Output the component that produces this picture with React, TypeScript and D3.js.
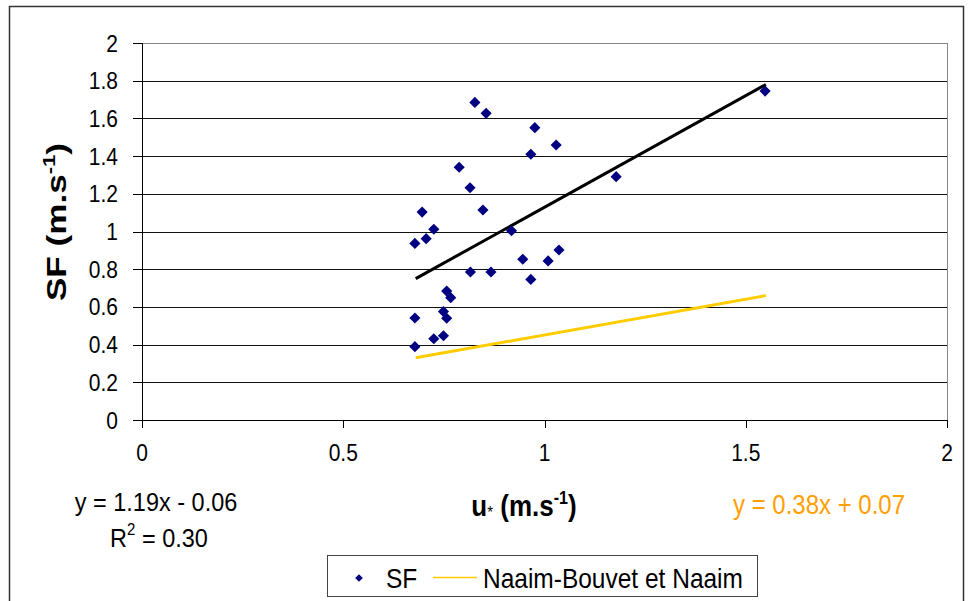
import React from "react";
import * as d3 from "d3";

const sfX = [0.678, 0.706, 0.725, 0.918, 0.946, 1.009, 1.036, 0.816, 0.867, 0.966, 0.757, 0.767, 0.749, 0.757, 0.678, 0.725, 0.749, 0.678, 0.827, 0.855, 0.976, 1.029, 0.966, 0.788, 0.815, 1.178, 0.696, 0.847, 1.548];
const sfY = [0.937, 0.962, 1.012, 1.004, 0.853, 0.844, 0.902, 0.785, 0.785, 0.746, 0.684, 0.649, 0.575, 0.540, 0.541, 0.431, 0.447, 0.389, 1.685, 1.627, 1.551, 1.459, 1.410, 1.341, 1.232, 1.291, 1.103, 1.114, 1.745];
const fitX = [0.68, 1.55];
const fitY = [0.75, 1.78];
const nbX = [0.68, 1.55];
const nbY = [0.33, 0.66];
const xTicks = [0, 0.5, 1, 1.5, 2];
const yTicks = [0, 0.2, 0.4, 0.6, 0.8, 1, 1.2, 1.4, 1.6, 1.8, 2];

const W = 969, H = 601;
const L = 142, R = 947, T = 43, B = 420;
const FONT = "'Liberation Sans', Arial, sans-serif";
const SY = 1.12;

function T_(props: { x: number; y: number; children: React.ReactNode; [k: string]: any }) {
  const { x, y, children, ...rest } = props;
  return (
    <text transform={`translate(${x},${y}) scale(1,${SY})`} {...rest}>{children}</text>
  );
}

export default function App() {
  const x = d3.scaleLinear().domain([0, 2]).range([L, R]);
  const y = d3.scaleLinear().domain([0, 2]).range([B, T]);
  const diamond = d3.symbol().type(d3.symbolSquare).size(62)();
  const diamondSmall = d3.symbol().type(d3.symbolSquare).size(30)();
  const line = d3.line<[number, number]>().x(d => x(d[0])).y(d => y(d[1]));
  const fitPts: [number, number][] = fitX.map((v, i) => [v, fitY[i]]);
  const nbPts: [number, number][] = nbX.map((v, i) => [v, nbY[i]]);

  return (
    <svg width={W} height={H} style={{ position: "absolute", left: 0, top: 0, background: "#fff" }} fontFamily={FONT}>
      <rect x={0} y={0} width={W} height={H} fill="#fff" />
      <rect x={9.5} y={6.5} width={954} height={640} fill="none" stroke="#333" strokeWidth={1.5} />
      {/* gridlines */}
      {yTicks.map(t => (
        <line key={"g" + t} x1={L} x2={R} y1={Math.round(y(t)) + 0.5} y2={Math.round(y(t)) + 0.5}
          stroke={t === 2 ? "#888" : "#111"} strokeWidth={1} />
      ))}
      <line x1={R + 0.5} x2={R + 0.5} y1={T} y2={B} stroke="#888" />
      {/* axes */}
      <line x1={L + 0.5} x2={L + 0.5} y1={T} y2={B + 0.5} stroke="#000" />
      <line x1={L} x2={R} y1={B + 0.5} y2={B + 0.5} stroke="#000" />
      {yTicks.map(t => (
        <g key={"yt" + t}>
          <line x1={L - 9} x2={L} y1={Math.round(y(t)) + 0.5} y2={Math.round(y(t)) + 0.5} stroke="#000" />
          <T_ x={L - 24} y={y(t) + 8.5} textAnchor="end" fontSize={21}>{t}</T_>
        </g>
      ))}
      {xTicks.map(t => (
        <g key={"xt" + t}>
          <line x1={Math.round(x(t)) + 0.5} x2={Math.round(x(t)) + 0.5} y1={B} y2={B + 8} stroke="#000" />
          <T_ x={x(t)} y={461} textAnchor="middle" fontSize={21}>{t}</T_>
        </g>
      ))}
      {/* lines */}
      <path d={line(fitPts) || ""} fill="none" stroke="#000" strokeWidth={3} />
      <path d={line(nbPts) || ""} fill="none" stroke="#FFCC00" strokeWidth={3} />
      {/* points */}
      {sfX.map((v, i) => (
        <path key={"p" + i} d={diamond} transform={`translate(${x(v)},${y(sfY[i])}) rotate(45)`} fill="#000080" />
      ))}
      {/* axis titles */}
      <T_ x={524} y={516} textAnchor="middle" fontSize={26} fontWeight="bold">
        <tspan>u</tspan><tspan fontSize={15} fontWeight="normal" dy={2}>*</tspan>
        <tspan dy={-2}> (m.s</tspan><tspan fontSize={16} dy={-11}>-1</tspan><tspan dy={11}>)</tspan>
      </T_>
      <text transform="translate(66,222) rotate(-90) scale(1.3,1)" textAnchor="middle" fontSize={27} fontWeight="bold">
        <tspan>SF (m.s</tspan><tspan fontSize={17} dy={-11}>-1</tspan><tspan dy={11}>)</tspan>
      </text>
      {/* equations */}
      <T_ x={156} y={511} textAnchor="middle" fontSize={23.5}>y = 1.19x - 0.06</T_>
      <T_ x={159} y={547} textAnchor="middle" fontSize={23.5}>
        <tspan>R</tspan><tspan fontSize={15} dy={-11}>2</tspan><tspan dy={11}> = 0.30</tspan>
      </T_>
      <T_ x={819} y={514} textAnchor="middle" fontSize={24} fill="#FFA000">y = 0.38x + 0.07</T_>
      {/* legend */}
      <rect x={327.5} y={555.5} width={430} height={41} fill="#fff" stroke="#444" />
      <path d={diamondSmall} transform="translate(359,578) rotate(45)" fill="#000080" />
      <T_ x={386} y={588} fontSize={24.5}>SF</T_>
      <line x1={433} x2={477} y1={577.5} y2={577.5} stroke="#FFCC00" strokeWidth={1.5} />
      <T_ x={483} y={588} fontSize={24.5}>Naaim-Bouvet et Naaim</T_>
    </svg>
  );
}
